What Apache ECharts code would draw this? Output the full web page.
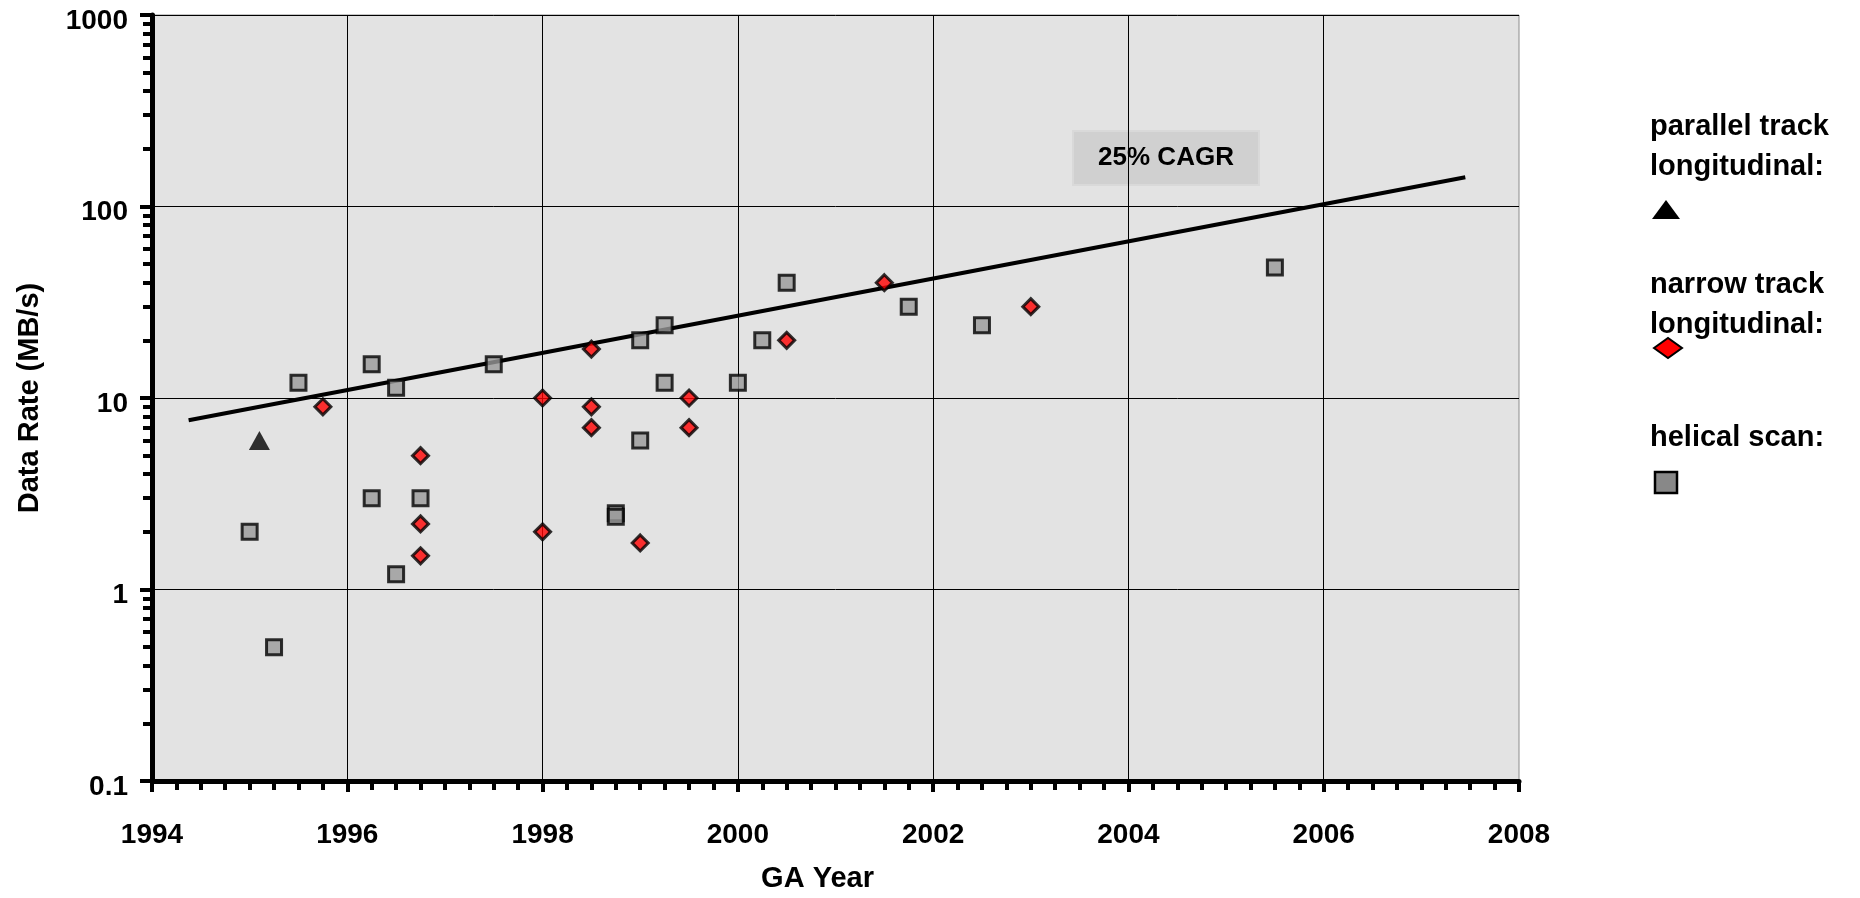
<!DOCTYPE html>
<html><head><meta charset="utf-8">
<script src="https://cdn.jsdelivr.net/npm/echarts@6/dist/echarts.min.js"></script>
<style>html,body{margin:0;padding:0;background:#fff}#c{width:1860px;height:898px}</style>
</head><body><div id="c"></div>
<script>
// ---- data ----
const parallelTrack = [[1995.1, 6]];
const narrowTrack = [
  [1995.75, 9], [1996.75, 5], [1996.75, 2.2], [1996.75, 1.5],
  [1998, 10], [1998, 2], [1998.5, 18], [1998.5, 9], [1998.5, 7],
  [1999, 1.75], [1999.5, 10], [1999.5, 7], [2000.5, 20], [2001.5, 40], [2003, 30]
];
const helicalScan = [
  [1995, 2], [1995.25, 0.5], [1995.5, 12], [1996.25, 15], [1996.25, 3],
  [1996.5, 11.3], [1996.5, 1.2], [1996.75, 3], [1997.5, 15], [1998.75, 2.5],
  [1998.75, 2.4], [1999, 20], [1999, 6], [1999.25, 24], [1999.25, 12],
  [2000, 12], [2000.25, 20], [2000.5, 40], [2001.75, 30], [2002.5, 24], [2005.5, 48]
];
const trendLine = [[1994.375, 7.65], [2007.45, 142]];
const yMajorTicks = [0.1, 1, 10, 100, 1000];
const yMinorTicks = [0.2, 0.3, 0.4, 0.5, 0.6, 0.7, 0.8, 0.9,
  2, 3, 4, 5, 6, 7, 8, 9, 20, 30, 40, 50, 60, 70, 80, 90,
  200, 300, 400, 500, 600, 700, 800, 900];
const xMin = 1994, xMax = 2008, xStep = 2;
const seriesNames = ['parallel track\nlongitudinal:', 'narrow track\nlongitudinal:', 'helical scan:'];
const trendLabel = '25% CAGR';
const xTitle = 'GA Year';
const yTitle = 'Data Rate (MB/s)';

const FONT = "'Liberation Sans', Arial, sans-serif";
const chart = echarts.init(document.getElementById('c'), null, {renderer: 'canvas'});

function legendText(txt, x, y) {
  return {type: 'text', left: x, top: y, style: {text: txt, font: 'bold 29px ' + FONT, fill: '#000', lineHeight: 40}};
}

const option = {
  backgroundColor: '#ffffff',
  animation: false,
  grid: {left: 152, right: 341, top: 15, bottom: 116, show: true,
    backgroundColor: '#e3e3e3', borderColor: '#8c8c8c', borderWidth: 1},
  xAxis: {
    type: 'value', min: xMin, max: xMax, interval: xStep,
    name: xTitle, nameLocation: 'middle', nameGap: 83,
    nameTextStyle: {fontFamily: FONT, fontWeight: 'bold', fontSize: 29, color: '#000', padding: [0, 36, 0, 0]},
    axisLine: {lineStyle: {color: '#000', width: 5}},
    axisTick: {length: 11, lineStyle: {color: '#000', width: 4}},
    minorTick: {show: true, splitNumber: 8, length: 9, lineStyle: {color: '#000', width: 4}},
    splitLine: {show: true, showMaxLine: false, lineStyle: {color: '#000', width: 1}},
    axisLabel: {fontFamily: FONT, fontWeight: 'bold', fontSize: 28, color: '#000', margin: 40, lineHeight: 28,
      formatter: v => String(v)}
  },
  yAxis: [{
    type: 'log', logBase: 10, min: 0.1, max: 1000,
    name: yTitle, nameLocation: 'middle', nameGap: 108, nameRotate: 90,
    nameTextStyle: {fontFamily: FONT, fontWeight: 'bold', fontSize: 29, color: '#000'},
    axisLine: {show: true, lineStyle: {color: '#000', width: 5}},
    axisTick: {show: true, customValues: yMajorTicks, length: 12, lineStyle: {color: '#000', width: 4}},
    splitLine: {show: true, lineStyle: {color: '#000', width: 1}},
    axisLabel: {customValues: yMajorTicks, fontFamily: FONT, fontWeight: 'bold', fontSize: 28, color: '#000',
      margin: 24, verticalAlign: 'top', lineHeight: 12, formatter: v => String(v)}
  }, {
    type: 'log', logBase: 10, min: 0.1, max: 1000, position: 'left',
    axisLine: {show: false},
    axisTick: {show: true, customValues: yMinorTicks, length: 9, lineStyle: {color: '#000', width: 4}},
    axisLabel: {show: false},
    splitLine: {show: false}
  }],
  series: [
    {name: 'trend', type: 'line', data: trendLine, symbol: 'none', yAxisIndex: 0,
      lineStyle: {color: '#000', width: 4}, z: 2},
    {name: seriesNames[0], type: 'scatter', data: parallelTrack, symbol: 'triangle', symbolSize: [21, 19],
      itemStyle: {color: '#000'}, z: 3},
    {name: seriesNames[1], type: 'scatter', data: narrowTrack, symbol: 'diamond', symbolSize: 16,
      itemStyle: {color: '#ff0000', borderColor: '#000', borderWidth: 3}, z: 3},
    {name: seriesNames[2], type: 'scatter', data: helicalScan, symbol: 'rect', symbolSize: 15,
      itemStyle: {color: '#999999', borderColor: '#000', borderWidth: 3}, z: 4}
  ],
  graphic: [
    {type: 'group', left: 1072, top: 130, children: [
      {type: 'rect', shape: {x: 0, y: 0, width: 186, height: 54},
        style: {fill: '#d0d0d0', stroke: '#d9d9d9', lineWidth: 2}},
      {type: 'text', x: 93, y: 27, style: {text: trendLabel, font: 'bold 26px ' + FONT, fill: '#000',
        align: 'center', verticalAlign: 'middle'}}
    ]},
    legendText(seriesNames[0], 1650, 107),
    {type: 'polygon', shape: {points: [[1652, 219], [1666, 200], [1680, 219]]}, style: {fill: '#000'}},
    legendText(seriesNames[1], 1650, 265),
    {type: 'polygon', shape: {points: [[1654, 348], [1668, 338], [1682, 348], [1668, 358]]},
      style: {fill: '#ff0000', stroke: '#000', lineWidth: 2}},
    legendText(seriesNames[2], 1650, 418),
    {type: 'rect', shape: {x: 1655, y: 472, width: 22, height: 21},
      style: {fill: '#888888', stroke: '#000', lineWidth: 2.5}}
  ]
};
chart.setOption(option);
</script>
</body></html>
